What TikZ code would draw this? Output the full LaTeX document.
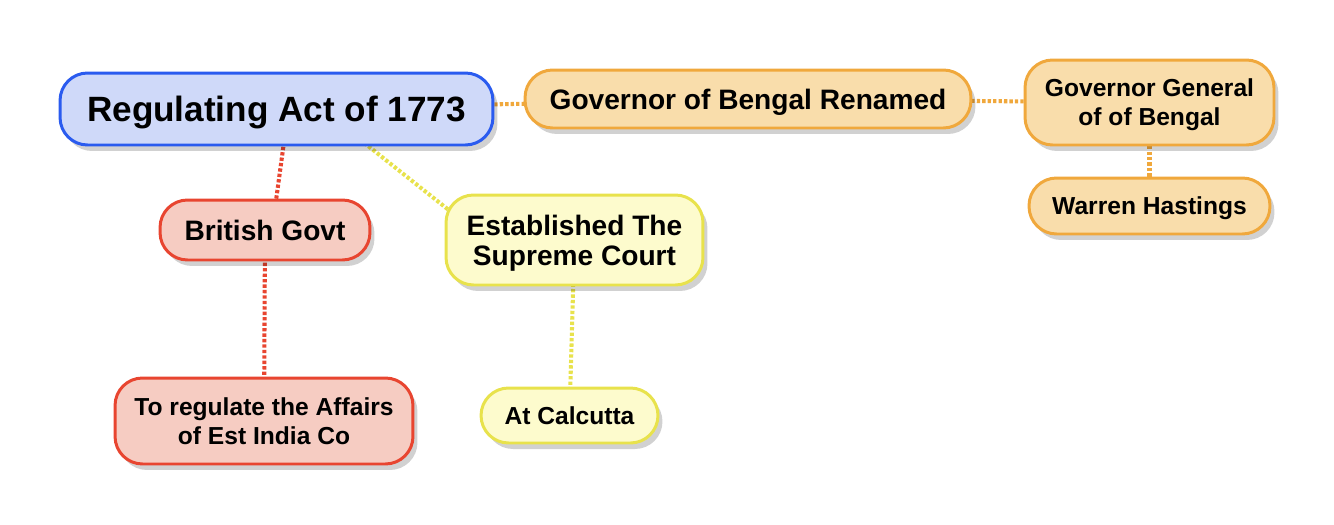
\documentclass[tikz,border=0pt]{standalone}
\usepackage{fontspec}
\setmainfont{Liberation Sans}
\usetikzlibrary{shadows}
\pgfdeclarelayer{background}
\pgfsetlayers{background,main}
\definecolor{bluedraw}{RGB}{42,91,239}
\definecolor{bluefill}{RGB}{207,217,249}
\definecolor{orangedraw}{RGB}{240,168,60}
\definecolor{orangefill}{RGB}{249,221,171}
\definecolor{reddraw}{RGB}{232,69,48}
\definecolor{redfill}{RGB}{246,204,194}
\definecolor{yellowdraw}{RGB}{232,226,76}
\definecolor{yellowfill}{RGB}{253,251,205}
\begin{document}
\begin{tikzpicture}[x=0.02cm, y=-0.02cm,
  box/.style={rounded corners=0.55cm, line width=1.7pt, inner sep=0pt, align=center,
    text depth=0pt, font=\bfseries\fontsize{14}{16.8}\selectfont,
    drop shadow={shadow xshift=0.09cm, shadow yshift=-0.12cm, opacity=0.18, fill=black}},
  bluebox/.style={box, draw=bluedraw, fill=bluefill},
  orangebox/.style={box, draw=orangedraw, fill=orangefill},
  redbox/.style={box, draw=reddraw, fill=redfill},
  yellowbox/.style={box, draw=yellowdraw, fill=yellowfill},
  link/.style={line width=2.3pt, dash pattern=on 1.9pt off 1.2pt}]
\useasboundingbox (0,0) rectangle (1334,524);

\node[bluebox, minimum width=8.66cm, minimum height=1.44cm, font=\bfseries\fontsize{20}{24}\selectfont] (reg) at (276.5,109) {Regulating Act of 1773};
\node[orangebox, minimum width=8.92cm, minimum height=1.16cm, font=\bfseries\fontsize{16}{19}\selectfont] (ren) at (748,99) {Governor of Bengal Renamed};
\node[orangebox, minimum width=4.98cm, minimum height=1.7cm, font=\bfseries\fontsize{14}{16.5}\selectfont] (ggb) at (1149.5,102.5) {Governor General\\of of Bengal};
\node[orangebox, minimum width=4.82cm, minimum height=1.12cm] (war) at (1149.5,206) {Warren Hastings};

\node[redbox, minimum width=4.2cm, minimum height=1.2cm, font=\bfseries\fontsize{16}{19}\selectfont] (brit) at (265,230) {British Govt};
\node[redbox, minimum width=5.96cm, minimum height=1.72cm] (aff) at (264,421) {To regulate the Affairs\\of Est India Co};

\node[yellowbox, minimum width=5.14cm, minimum height=1.8cm, font=\bfseries\fontsize{16}{17}\selectfont] (est) at (574.5,240) {Established The\\Supreme Court};
\node[yellowbox, minimum width=3.54cm, minimum height=1.1cm] (cal) at (569.5,415.5) {At Calcutta};

\begin{pgfonlayer}{background}
\draw[link, orangedraw] (reg.center) -- (ren.center);
\draw[link, orangedraw] (ren.center) -- (ggb.center);
\draw[link, orangedraw] (ggb.center) -- (war.center);
\draw[link, reddraw] ([xshift=0.24cm]reg.center) -- ([xshift=0.14cm]brit.center);
\draw[link, reddraw] (brit.center) -- (aff.center);
\draw[link, yellowdraw] ([xshift=0.9cm]reg.center) -- ([xshift=-1.76cm]est.center);
\draw[link, yellowdraw] (est.center) -- (cal.center);
\end{pgfonlayer}

\end{tikzpicture}
\end{document}
